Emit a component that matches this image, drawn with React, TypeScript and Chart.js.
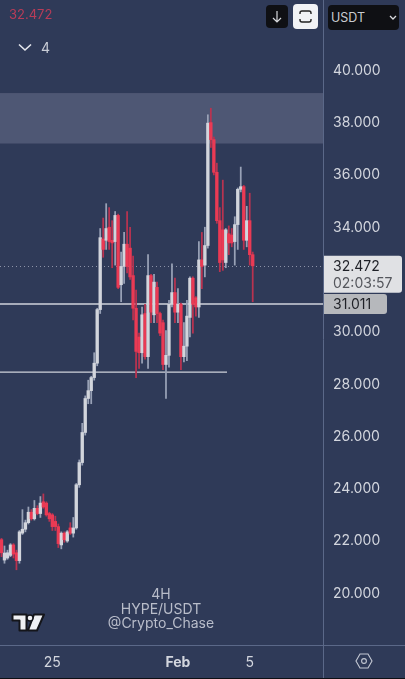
import React, { useEffect, useRef } from "react";
import { Chart, registerables } from "chart.js";

Chart.register(...registerables);

const opens = [22.0,21.22,21.3,21.4,21.8,21.5,21.2,22.25,22.4,22.65,23.05,22.8,23.2,23.0,23.45,23.4,23.0,22.95,22.7,22.5,21.8,22.25,21.95,22.45,22.25,22.45,24.1,24.95,26.1,27.4,27.7,28.2,28.75,30.8,33.5,33.45,33.95,33.45,33.4,34.4,31.75,32.45,33.3,33.15,32.1,30.85,29.75,29.15,30.65,29.0,32.1,30.6,31.65,30.65,30.3,28.7,29.05,31.0,31.45,30.7,31.0,29.0,29.4,30.5,32.0,31.25,30.9,32.7,32.5,33.25,37.95,37.3,36.05,34.2,33.85,32.6,33.7,33.65,33.4,34.05,35.4,35.5,33.45,34.2,32.9];
const highs = [22.05,21.76,21.6,21.85,21.85,21.6,22.35,23.15,22.75,23.25,23.15,23.5,23.3,23.65,23.75,23.45,23.05,23.0,22.9,22.6,22.3,22.3,22.35,22.65,22.85,24.15,25.05,26.45,27.5,28.1,28.25,29.15,30.85,33.9,34.3,34.85,34.7,34.2,34.55,34.45,33.0,33.75,34.55,33.95,32.85,31.55,29.9,30.9,31.0,32.9,32.15,32.15,31.85,30.7,30.4,30.0,31.15,32.55,32.0,31.6,31.05,30.3,31.15,32.05,32.05,31.3,33.4,33.75,33.95,38.25,38.5,37.4,36.4,34.7,35.75,33.9,34.0,33.9,34.35,35.45,36.25,35.55,34.75,35.25,33.0];
const lows = [21.35,21.1,21.25,21.35,21.3,20.85,21.1,22.2,22.3,22.6,22.75,22.75,22.95,22.85,23.2,22.9,22.7,22.35,22.35,21.7,21.65,21.9,21.9,22.2,22.1,22.4,24.0,24.85,26.0,27.2,27.2,28.1,28.65,30.65,32.8,33.1,33.1,32.4,32.5,31.6,31.1,31.8,32.2,31.95,30.4,28.2,28.55,28.75,28.9,28.55,30.3,30.3,30.3,29.8,28.5,27.4,28.6,30.9,30.3,30.3,28.5,28.8,28.85,29.75,29.9,30.55,30.5,31.6,32.05,33.15,37.0,35.95,34.1,32.25,32.3,32.4,32.9,33.2,32.5,33.1,35.3,33.1,33.2,32.5,31.1];
const closes = [21.5,21.49,21.5,21.8,21.45,21.2,22.3,22.4,22.65,23.05,22.8,23.2,23.0,23.4,23.25,22.95,22.8,22.5,22.5,21.85,22.25,22.0,22.3,22.25,22.45,24.1,24.95,26.1,27.4,27.7,28.2,28.75,30.8,33.55,33.1,33.9,33.4,33.35,34.4,31.65,32.45,33.3,32.45,32.05,30.85,29.2,29.15,30.6,29.0,32.1,30.7,31.85,30.65,29.9,28.7,29.05,31.0,31.45,30.7,31.0,29.0,29.4,30.55,32.0,31.0,30.9,32.7,32.45,33.25,37.93,37.3,36.05,34.2,32.6,32.7,33.85,33.35,33.35,34.05,35.4,35.5,33.45,34.2,32.9,32.472];

const slotCount = 108;
const xTickLabels: Record<number, string> = { 17: "25", 59: "Feb", 83: "5" };
const yTicks = [20, 22, 24, 26, 28, 30, 32, 34, 36, 38, 40];
const yMin = 17.973;
const yMax = 42.639;

const zone = [37.15, 39.08];
const lastPrice = 32.472;
const countdown = "02:03:57";
const level = 31.011;
const lowerLevel = 28.41;
const lowerLevelEnd = 227;

const BG = "#2f3a58";
const UP = "#d2d5dc";
const DOWN = "#ea3a54";
const UP_WICK = "#98a1b6";
const DOWN_WICK = "#b83350";
const LINE = "#5b6888";
const TEXT = "#d3d6de";
const FONT = "Inter, 'Noto Sans', sans-serif";

const noPadding = (s: any) => {
  s.paddingLeft = 0;
  s.paddingRight = 0;
  s.paddingTop = 0;
  s.paddingBottom = 0;
};

const overlays = {
  id: "overlays",
  beforeDatasetsDraw(chart: any) {
    const { ctx, chartArea: a, scales } = chart;
    const y = scales.y;
    ctx.save();
    ctx.fillStyle = "#4e5774";
    const t = y.getPixelForValue(zone[1]);
    const b = y.getPixelForValue(zone[0]);
    ctx.fillRect(a.left, t, a.right - a.left, b - t);

    ctx.strokeStyle = "#8d93a8";
    ctx.lineWidth = 1;
    ctx.setLineDash([1, 3]);
    ctx.beginPath();
    const py = Math.round(y.getPixelForValue(lastPrice)) + 0.5;
    ctx.moveTo(a.left, py);
    ctx.lineTo(a.right, py);
    ctx.stroke();
    ctx.setLineDash([]);

    ctx.strokeStyle = "#cfd2da";
    ctx.lineWidth = 1.4;
    ctx.beginPath();
    const l1 = y.getPixelForValue(level);
    ctx.moveTo(a.left, l1);
    ctx.lineTo(a.right, l1);
    const l2 = y.getPixelForValue(lowerLevel);
    ctx.moveTo(a.left, l2);
    ctx.lineTo(lowerLevelEnd, l2);
    ctx.stroke();
    ctx.restore();
  },
  afterDraw(chart: any) {
    const { ctx, chartArea: a, scales, width, height } = chart;
    const y = scales.y;
    ctx.save();
    ctx.strokeStyle = LINE;
    ctx.lineWidth = 1;
    ctx.beginPath();
    ctx.moveTo(a.right + 0.5, 0);
    ctx.lineTo(a.right + 0.5, height);
    ctx.moveTo(0, a.bottom + 0.5);
    ctx.lineTo(width, a.bottom + 0.5);
    ctx.stroke();

    ctx.fillStyle = "#0d0f14";
    ctx.fillRect(0, height - 1, width, 1);

    const cy = y.getPixelForValue(lastPrice);
    ctx.fillStyle = "#e0e1e4";
    ctx.beginPath();
    ctx.roundRect(a.right + 1, cy - 10, 78, 37, [0, 3, 3, 0]);
    ctx.fill();
    ctx.fillStyle = "#1f2127";
    ctx.font = `14px ${FONT}`;
    ctx.textBaseline = "middle";
    ctx.textAlign = "left";
    ctx.fillText(lastPrice.toFixed(3), 333, cy + 1);
    ctx.fillStyle = "#54565c";
    ctx.fillText(countdown, 333, cy + 18);

    const ly = y.getPixelForValue(level);
    ctx.fillStyle = "#b6b8bc";
    ctx.beginPath();
    ctx.roundRect(a.right + 1, ly - 10, 63, 20, [0, 3, 3, 0]);
    ctx.fill();
    ctx.fillStyle = "#1f2127";
    ctx.fillText(level.toFixed(3), 333, ly + 1);
    ctx.restore();
  },
};

const abs = (left: number, top: number, extra: React.CSSProperties = {}): React.CSSProperties => ({
  position: "absolute",
  left,
  top,
  fontFamily: FONT,
  ...extra,
});

export default function App() {
  const ref = useRef<HTMLCanvasElement>(null);

  useEffect(() => {
    document.body.style.margin = "0";
    document.body.style.background = BG;
    const wicks = opens.map((_, i) => [lows[i], highs[i]]);
    const bodies = opens.map((o, i) => [Math.min(o, closes[i]), Math.max(o, closes[i])]);
    const labels = Array.from({ length: slotCount }, (_, i) => xTickLabels[i] ?? "");
    const chart = new Chart(ref.current!, {
      type: "bar",
      data: {
        labels,
        datasets: [
          {
            label: "wick",
            data: wicks as any,
            backgroundColor: opens.map((o, i) => (closes[i] >= o ? UP_WICK : DOWN_WICK)),
            barThickness: 1.1,
            grouped: false,
            order: 2,
            borderWidth: 0,
          },
          {
            label: "body",
            data: bodies as any,
            backgroundColor: opens.map((o, i) => (closes[i] >= o ? UP : DOWN)),
            barThickness: 2.7,
            grouped: false,
            order: 1,
            borderWidth: 0,
          },
        ],
      },
      options: {
        animation: false,
        responsive: false,
        maintainAspectRatio: false,
        layout: { padding: 0 },
        plugins: { legend: { display: false }, tooltip: { enabled: false } },
        scales: {
          x: {
            grid: { display: false },
            border: { display: false },
            afterFit: (s: any) => {
              s.height = 34;
              noPadding(s);
            },
            ticks: {
              autoSkip: false,
              maxRotation: 0,
              minRotation: 0,
              padding: 1,
              color: "#d3d6de",
              font: (c: any) => ({
                family: FONT,
                size: 14,
                weight: c.tick && c.tick.label === "Feb" ? "bold" : "normal",
              }),
            },
          },
          y: {
            position: "right",
            min: yMin,
            max: yMax,
            grid: { display: false },
            border: { display: false },
            afterFit: (s: any) => {
              s.width = 82;
              noPadding(s);
            },
            afterBuildTicks: (s: any) => {
              s.ticks = yTicks.map((value) => ({ value }));
            },
            ticks: {
              padding: 2,
              labelOffset: 1.5,
              color: TEXT,
              font: { family: FONT, size: 14 },
              callback: (v: any) => Number(v).toFixed(3),
            },
          },
        },
      },
      plugins: [overlays],
    } as any);
    return () => chart.destroy();
  }, []);

  return (
    <div style={{ position: "relative", width: 405, height: 679, background: BG, overflow: "hidden" }}>
      <canvas ref={ref} width={405} height={679} style={{ display: "block", width: 405, height: 679 }} />

      <div style={abs(9, 6, { fontSize: 13, lineHeight: "16px", color: "#b83c58" })}>32.472</div>
      <svg style={abs(18, 43)} width={14} height={9} viewBox="0 0 14 9">
        <path d="M1 1.5 L7 7 L13 1.5" fill="none" stroke="#e6e8ee" strokeWidth={1.6} />
      </svg>
      <div style={abs(41, 39, { fontSize: 14, lineHeight: "17px", color: "#c9ccd6" })}>4</div>

      <div style={abs(266, 5, { width: 22, height: 23, background: "#0f1014", borderRadius: 4 })} />
      <svg style={abs(266, 5)} width={22} height={23} viewBox="0 0 22 23">
        <path d="M11 6 V17 M7 13 L11 17 L15 13" fill="none" stroke="#d8d9dd" strokeWidth={1.2} />
      </svg>
      <div style={abs(293, 4, { width: 25, height: 25, background: "#f1f2f5", borderRadius: 4 })} />
      <svg style={abs(293, 4)} width={25} height={25} viewBox="0 0 25 25">
        <path
          d="M7 10 V9 Q7 7 9 7 H16 Q18 7 18 9 V10 M7 15 V16 Q7 18 9 18 H16 Q18 18 18 16 V15"
          fill="none"
          stroke="#222"
          strokeWidth={1.4}
        />
      </svg>
      <div style={abs(328, 5, { width: 71, height: 25, background: "#0f1014", borderRadius: 4 })} />
      <div style={abs(331, 9, { fontSize: 12.5, lineHeight: "17px", color: "#c9cbd1" })}>USDT</div>
      <svg style={abs(389, 15)} width={8} height={6} viewBox="0 0 8 6">
        <path d="M1 1 L4 4 L7 1" fill="none" stroke="#d8d9dd" strokeWidth={1.3} />
      </svg>

      <div
        style={abs(81, 587, {
          width: 160,
          textAlign: "center",
          fontSize: 14,
          lineHeight: "14.5px",
          color: "#b9bdca",
        })}
      >
        4H
        <br />
        HYPE/USDT
        <br />
        @Crypto_Chase
      </div>

      <svg style={abs(10, 612)} width={36} height={21} viewBox="0 0 36 21">
        <path
          d="M2.5 2.5 H16.5 V18.5 H9.5 V8.5 H2.5 Z M24 2.5 H34 L27 18.5 H18 Z"
          fill="#eff0f3"
          stroke="#14151a"
          strokeWidth={2}
          strokeLinejoin="round"
        />
        <circle cx={20} cy={6} r={3} fill="#eff0f3" stroke="#14151a" strokeWidth={1.4} />
      </svg>

      <svg style={abs(355, 652)} width={18} height={18} viewBox="0 0 18 18">
        <path d="M5 2 H13 L17 9 L13 16 H5 L1 9 Z" fill="none" stroke="#c4c8d3" strokeWidth={1.1} />
        <circle cx={9} cy={9} r={2.4} fill="none" stroke="#c4c8d3" strokeWidth={1.1} />
      </svg>
    </div>
  );
}
